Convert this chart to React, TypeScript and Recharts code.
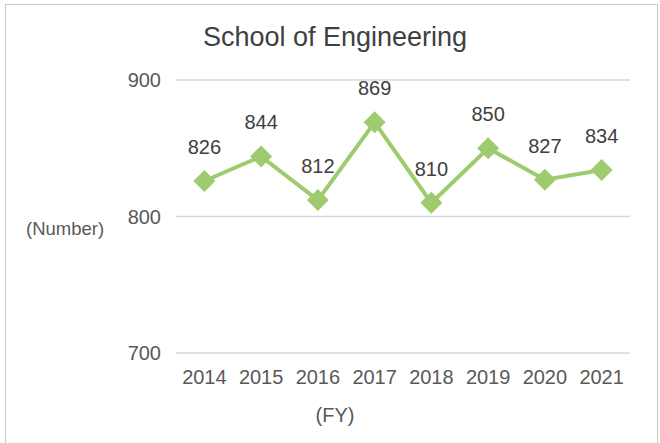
import { CartesianGrid, LabelList, Line, LineChart, XAxis, YAxis } from "recharts";

const years = ["2014", "2015", "2016", "2017", "2018", "2019", "2020", "2021"];
const students = [826, 844, 812, 869, 810, 850, 827, 834];
const yTicks = [700, 800, 900];

const data = years.map((fy, i) => ({ fy, value: students[i] }));

const GREEN = "#9DCB6E";
const TEXT = "#595959";
const FONT = "'Liberation Sans', Arial, sans-serif";

function Diamond(props: any) {
  const { cx, cy } = props;
  if (cx == null || cy == null) return null;
  const r = 11;
  return (
    <polygon
      points={`${cx},${cy - r} ${cx + r},${cy} ${cx},${cy + r} ${cx - r},${cy}`}
      fill={GREEN}
    />
  );
}

export default function App() {
  return (
    <div style={{ position: "absolute", left: 0, top: 0, width: 660, height: 443, background: "#fff", fontFamily: FONT }}>
      <div
        style={{
          position: "absolute",
          left: 5,
          top: 4,
          width: 653,
          height: 460,
          border: "1px solid #C8C8C8",
          boxSizing: "border-box",
        }}
      />
      <div style={{ position: "absolute", left: 0, width: 670, top: 22, textAlign: "center", fontSize: 27, color: "#404040" }}>
        School of Engineering
      </div>
      <div style={{ position: "absolute", left: 26, top: 218, fontSize: 18.5, color: TEXT }}>(Number)</div>
      <div style={{ position: "absolute", left: 0, width: 670, top: 404, textAlign: "center", fontSize: 20, color: TEXT }}>(FY)</div>
      <LineChart width={660} height={443} data={data} margin={{ top: 80, right: 30, left: 116, bottom: 60 }}>
        <CartesianGrid vertical={false} stroke="#D9D9D9" strokeWidth={1.5} />
        <XAxis
          dataKey="fy"
          scale="band"
          axisLine={false}
          tickLine={false}
          tickSize={0}
          tickMargin={17}
          height={30}
          tick={{ fill: TEXT, fontSize: 20, fontFamily: FONT }}
          interval={0}
        />
        <YAxis
          domain={[700, 900]}
          ticks={yTicks}
          width={60}
          axisLine={false}
          tickLine={false}
          tickSize={0}
          tickMargin={15}
          tick={{ fill: TEXT, fontSize: 20, fontFamily: FONT }}
        />
        <Line
          dataKey="value"
          stroke={GREEN}
          strokeWidth={4}
          dot={<Diamond />}
          activeDot={false}
          isAnimationActive={false}
        >
          <LabelList dataKey="value" position="top" offset={27} fill="#404040" fontSize={20} fontFamily={FONT} />
        </Line>
      </LineChart>
    </div>
  );
}
